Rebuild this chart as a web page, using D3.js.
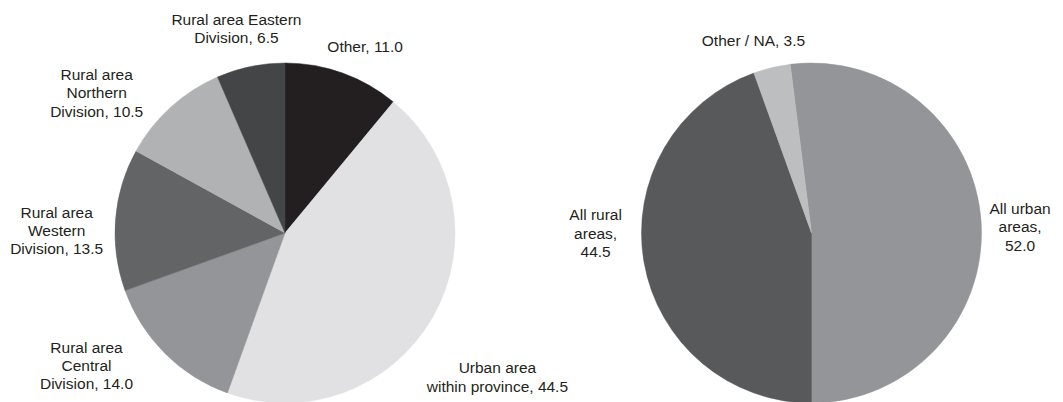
<!DOCTYPE html>
<html lang="en">
<head>
  <meta charset="utf-8">
  <script src="https://d3js.org/d3.v7.min.js"></script>
  <style>
    body { margin: 0; background: #fff; }
    svg text { font-family: "Liberation Sans", Arial, sans-serif; font-size: 15.5px; fill: #231f20; }
  </style>
</head>
<body>
<script>

// left pie: place of residence, detailed
var leftNames = ["Other", "Urban area\nwithin province", "Rural area\nCentral\nDivision",
                 "Rural area\nWestern\nDivision", "Rural area\nNorthern\nDivision", "Rural area Eastern\nDivision"];
var leftValues = [11.0, 44.5, 14.0, 13.5, 10.5, 6.5];
var leftColors = ["#231f20", "#e1e1e3", "#939598", "#636466", "#b1b2b4", "#444547"];

// right pie: urban / rural summary
var rightNames = ["All urban\nareas", "All rural\nareas", "Other / NA"];
var rightValues = [52.0, 44.5, 3.5];
var rightColors = ["#939598", "#58595b", "#bcbec0"];

var width = 1063,
    height = 402,
    radius = 170,
    lineH = 18.4;

var fmt = d3.format(".1f");

var svg = d3.select("body").append("svg")
    .attr("width", width)
    .attr("height", height);

// label tweaks (dx, dy) from the label-arc centroid, like the original layout
var leftNudge = [[9, 11], [30, 40], [-50, -16], [-19, 14], [-47, 15], [-6, 1]];
var rightNudge = [[-1, 7], [-9, -36], [-9, 12]];

function drawPie(cx, cy, names, values, colors, startDeg, nudge, valueOwnLine) {
  var start = startDeg * Math.PI / 180;
  var pie = d3.pie().sort(null).value(function(d) { return d; })
      .startAngle(start).endAngle(start + 2 * Math.PI);
  var arcs = pie(values);

  var arc = d3.arc().innerRadius(0).outerRadius(radius);
  var labelArc = d3.arc().innerRadius(radius + 40).outerRadius(radius + 40);

  var g = svg.append("g").attr("transform", "translate(" + cx + "," + cy + ")");

  g.selectAll("path")
      .data(arcs)
    .enter().append("path")
      .attr("d", arc)
      .attr("fill", function(d, i) { return colors[i]; })
      .attr("stroke", function(d, i) { return colors[i]; })
      .attr("stroke-width", 0.5);

  g.selectAll("text.label")
      .data(arcs)
    .enter().append("text")
      .attr("class", "label")
      .attr("text-anchor", "middle")
      .each(function(d, i) {
        var sep = (valueOwnLine && i < names.length - 1) ? ",\n" : ", ";
        var lines = (names[i] + sep + fmt(values[i])).split("\n");
        var c = labelArc.centroid(d);
        var x = c[0] + nudge[i][0],
            y = c[1] + nudge[i][1];
        var top = y - (lines.length - 1) * lineH / 2 + 5.5;
        var t = d3.select(this);
        lines.forEach(function(l, k) {
          t.append("tspan")
            .attr("x", x)
            .attr("y", top + k * lineH)
            .text(l);
        });
      });
}

drawPie(285, 233, leftNames, leftValues, leftColors, 0, leftNudge, false);
drawPie(811.5, 233, rightNames, rightValues, rightColors, -7.2, rightNudge, true);

</script>
</body>
</html>
